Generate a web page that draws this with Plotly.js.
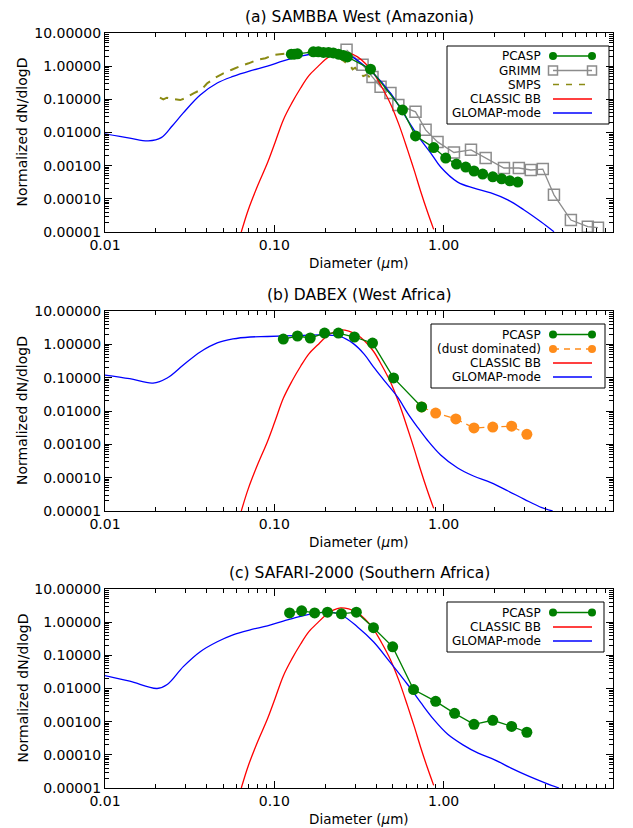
<!DOCTYPE html>
<html>
<head>
<meta charset="utf-8">
<script src="https://cdn.plot.ly/plotly-3.0.1.min.js"></script>
<style>html,body{margin:0;padding:0;background:#fff;}#chart{width:633px;height:828px;}</style>
</head>
<body>
<div id="chart"></div>
<script>
// ---------------- data ----------------
const panelTitles = ["(a) SAMBBA West (Amazonia)", "(b) DABEX (West Africa)", "(c) SAFARI-2000 (Southern Africa)"];
const xTickVals = [0.01, 0.1, 1, 10];
const xTickText = ["0.01", "0.10", "1.00", "10.00"];
const yTickVals = [1e-5, 1e-4, 1e-3, 1e-2, 1e-1, 1, 10];
const yTickText = ["0.00001", "0.00010", "0.00100", "0.01000", "0.10000", "1.00000", "10.00000"];

// CLASSIC BB (same in all panels)
const classicD = [0.0638, 0.0702, 0.080, 0.091, 0.101, 0.113, 0.127, 0.143, 0.160, 0.180, 0.200, 0.223, 0.246, 0.275, 0.31, 0.345, 0.385, 0.43, 0.485, 0.545, 0.612, 0.67, 0.731, 0.80, 0.873];
const classicN = [1.0e-5, 4.7e-5, 2.6e-4, 1.2e-3, 5.0e-3, 0.024, 0.078, 0.22, 0.52, 0.95, 1.6, 2.3, 2.7, 2.5, 1.9, 1.2, 0.62, 0.24, 0.074, 0.017, 0.0030, 7.2e-4, 1.7e-4, 4.2e-5, 1.2e-5];

// (a) SAMBBA West
const aGlomapD = [0.01, 0.014, 0.018, 0.0215, 0.025, 0.029, 0.0365, 0.046, 0.057, 0.072, 0.091, 0.113, 0.143, 0.180, 0.210, 0.246, 0.283, 0.323, 0.385, 0.485, 0.612, 0.711, 0.837, 0.96, 1.21, 1.51, 1.90, 2.39, 2.97, 3.75, 4.48];
const aGlomapN = [0.0091, 0.0068, 0.0056, 0.0070, 0.016, 0.039, 0.135, 0.31, 0.49, 0.72, 1.0, 1.45, 2.0, 2.45, 2.6, 2.5, 2.0, 1.26, 0.60, 0.155, 0.024, 0.0074, 0.00245, 0.00091, 0.00032, 0.00021, 0.000151, 0.000093, 0.000047, 0.0000204, 0.0000102];
const aPcaspD = [0.126, 0.131, 0.137, 0.170, 0.182, 0.195, 0.209, 0.223, 0.239, 0.256, 0.270, 0.37, 0.571, 0.682, 0.873, 1.028, 1.19, 1.35, 1.51, 1.70, 1.95, 2.20, 2.46, 2.74];
const aPcaspN = [2.3, 2.3, 2.35, 2.7, 2.7, 2.6, 2.6, 2.5, 2.3, 2.1, 1.9, 0.81, 0.048, 0.0079, 0.0035, 0.0017, 0.00112, 0.00091, 0.00069, 0.00056, 0.00046, 0.0004, 0.00035, 0.00032];
const aGrimmD = [0.267, 0.332, 0.38, 0.424, 0.485, 0.54, 0.682, 0.782, 0.92, 1.15, 1.45, 1.77, 2.27, 2.78, 3.27, 3.85, 4.48, 5.64, 7.1, 8.15];
const aGrimmN = [3.1, 1.1, 0.47, 0.24, 0.155, 0.068, 0.042, 0.012, 0.0052, 0.0025, 0.0030, 0.0017, 0.00085, 0.00085, 0.00074, 0.00079, 0.000132, 2.3e-5, 1.45e-5, 1.35e-5];
const aSmpsD = [0.0211, 0.0221, 0.0232, 0.0266, 0.0278, 0.0297, 0.0333, 0.0373, 0.040, 0.0448, 0.050, 0.056, 0.063, 0.0705, 0.079, 0.0886, 0.099, 0.119, 0.156, 0.19, 0.223, 0.25, 0.282, 0.29, 0.30, 0.323, 0.335, 0.35, 0.38, 0.424];
const aSmpsN = [0.112, 0.10, 0.112, 0.102, 0.095, 0.107, 0.152, 0.20, 0.30, 0.45, 0.61, 0.78, 1.01, 1.22, 1.55, 1.74, 2.18, 2.44, 2.57, 2.5, 2.18, 1.6, 1.0, 0.8, 0.9, 0.61, 0.5, 0.55, 0.4, 0.27];

// (b) DABEX
const bGlomapD = [0.01, 0.014, 0.0192, 0.0233, 0.029, 0.0365, 0.046, 0.057, 0.072, 0.091, 0.143, 0.200, 0.246, 0.293, 0.34, 0.385, 0.44, 0.535, 0.612, 0.70, 0.80, 0.96, 1.21, 1.5, 1.9, 2.4, 3.0, 3.8, 4.4];
const bGlomapN = [0.12, 0.093, 0.069, 0.098, 0.24, 0.59, 1.1, 1.45, 1.66, 1.72, 1.85, 1.9, 1.7, 1.05, 0.5, 0.21, 0.089, 0.026, 0.0087, 0.0033, 0.00135, 0.00048, 0.000195, 0.000112, 0.0000708, 0.0000398, 0.0000224, 0.0000126, 0.00001];
const bPcaspD = [0.113, 0.137, 0.163, 0.198, 0.239, 0.297, 0.38, 0.506, 0.741];
const bPcaspN = [1.44, 1.78, 1.55, 2.18, 2.18, 1.66, 1.09, 0.098, 0.0132];
const bDustD = [0.741, 0.897, 1.18, 1.51, 1.95, 2.52, 3.10];
const bDustN = [0.0132, 0.0087, 0.0058, 0.0031, 0.0033, 0.0035, 0.0020];

// (c) SAFARI-2000
const cGlomapD = [0.01, 0.014, 0.0203, 0.0233, 0.029, 0.0365, 0.046, 0.057, 0.072, 0.091, 0.113, 0.143, 0.180, 0.210, 0.246, 0.31, 0.385, 0.485, 0.612, 0.731, 0.873, 1.057, 1.3, 1.6, 2.0, 2.5, 3.2, 4.0, 4.8];
const cGlomapN = [0.0245, 0.0166, 0.010, 0.0132, 0.0457, 0.129, 0.257, 0.417, 0.589, 0.776, 1.07, 1.5, 1.9, 2.0, 1.7, 0.72, 0.257, 0.060, 0.0132, 0.0038, 0.00117, 0.000417, 0.0002, 0.000112, 0.0000708, 0.0000398, 0.0000224, 0.0000141, 0.00001];
const cPcaspD = [0.123, 0.145, 0.173, 0.206, 0.249, 0.305, 0.385, 0.50, 0.664, 0.897, 1.16, 1.51, 1.95, 2.52, 3.10];
const cPcaspN = [1.9, 2.2, 1.9, 2.0, 1.78, 2.0, 0.68, 0.18, 0.0093, 0.0041, 0.00178, 0.00083, 0.0011, 0.00072, 0.00048];

// ---------------- styles ----------------
const W = 633, H = 828;
const FONT = "DejaVu Sans";
const GREEN = "#007f00", GRAY = "#8c8c8c", OLIVE = "#8b8b14", RED = "#ff0000", BLUE = "#0000ff", ORANGE = "#ff8c1a";
const px = x => x / W;
const py = y => 1 - y / H;
const plotL = 105, plotR = 613;
const panels = [{top: 33, bot: 232}, {top: 311, bot: 511}, {top: 589, bot: 788}];

function minorLogVals(lo, hi) {
  const v = [];
  for (let e = lo; e < hi; e++) for (let k = 2; k <= 9; k++) v.push(k * Math.pow(10, e));
  return v;
}

const traces = [];
function addLine(i, x, y, color, opts) {
  const ax = i === 0 ? "" : String(i + 1);
  traces.push(Object.assign({
    type: "scatter", x: x, y: y, xaxis: "x" + ax, yaxis: "y" + ax,
    mode: "lines", line: {color: color, width: 1.3, shape: "spline", smoothing: 1},
    showlegend: false, hoverinfo: "skip"
  }, opts || {}));
}

// panel a
addLine(0, aSmpsD, aSmpsN, OLIVE, {line: {color: OLIVE, width: 2, dash: "9px,7px"}});
addLine(0, aGrimmD, aGrimmN, GRAY, {mode: "lines+markers", line: {color: GRAY, width: 1.3},
  marker: {symbol: "square-open", size: 11, color: GRAY, line: {width: 1.5, color: GRAY}}});
addLine(0, classicD, classicN, RED);
addLine(0, aGlomapD, aGlomapN, BLUE);
addLine(0, aPcaspD, aPcaspN, GREEN, {mode: "lines+markers", line: {color: GREEN, width: 1.3},
  marker: {symbol: "circle", size: 11, color: GREEN}});
// panel b
addLine(1, classicD, classicN, RED);
addLine(1, bGlomapD, bGlomapN, BLUE);
addLine(1, bDustD, bDustN, ORANGE, {mode: "lines+markers", line: {color: ORANGE, width: 1.3, dash: "7px,5px"},
  marker: {symbol: "circle", size: 11, color: ORANGE}});
addLine(1, bPcaspD, bPcaspN, GREEN, {mode: "lines+markers", line: {color: GREEN, width: 1.3},
  marker: {symbol: "circle", size: 11, color: GREEN}});
// panel c
addLine(2, classicD, classicN, RED);
addLine(2, cGlomapD, cGlomapN, BLUE);
addLine(2, cPcaspD, cPcaspN, GREEN, {mode: "lines+markers", line: {color: GREEN, width: 1.3},
  marker: {symbol: "circle", size: 11, color: GREEN}});

const layout = {
  width: W, height: H, margin: {l: 0, r: 0, t: 0, b: 0},
  paper_bgcolor: "#fff", plot_bgcolor: "#fff",
  font: {family: FONT, color: "#000", size: 13},
  showlegend: false, annotations: [], shapes: []
};

panels.forEach((p, i) => {
  const ax = i === 0 ? "" : String(i + 1);
  const common = {type: "log", showgrid: false, zeroline: false, automargin: false,
    showline: true, linecolor: "#000", linewidth: 1.2, mirror: "ticks",
    ticks: "inside", ticklen: 7, tickwidth: 1.2, tickcolor: "#000",
    tickfont: {family: FONT, size: 14, color: "#000"}};
  layout["xaxis" + ax] = Object.assign({}, common, {
    range: [-2, 1], domain: [px(plotL), px(plotR)], anchor: "y" + ax,
    tickmode: "array", tickvals: xTickVals, ticktext: xTickText,
    minor: {tickmode: "array", tickvals: minorLogVals(-2, 1), ticks: "inside", ticklen: 4, tickwidth: 1, tickcolor: "#000", showgrid: false}
  });
  layout["yaxis" + ax] = Object.assign({}, common, {
    range: [-5, 1], domain: [py(p.bot), py(p.top)], anchor: "x" + ax,
    tickmode: "array", tickvals: yTickVals, ticktext: yTickText,
    minor: {tickmode: "array", tickvals: minorLogVals(-5, 1), ticks: "inside", ticklen: 4, tickwidth: 1, tickcolor: "#000", showgrid: false}
  });

  const cx = (plotL + plotR) / 2;
  layout.annotations.push({text: panelTitles[i], xref: "paper", yref: "paper", x: px(cx), y: py(p.top - 16),
    xanchor: "center", yanchor: "middle", showarrow: false, font: {family: FONT, size: 15.5, color: "#000"}});
  layout.annotations.push({text: "Diameter (<i>\u03bc</i>m)", xref: "paper", yref: "paper", x: px(cx), y: py(p.bot + 31),
    xanchor: "center", yanchor: "middle", showarrow: false, font: {family: FONT, size: 13.5, color: "#000"}});
  layout.annotations.push({text: "Normalized dN/dlogD", xref: "paper", yref: "paper", x: px(22), y: py((p.top + p.bot) / 2),
    xanchor: "center", yanchor: "middle", textangle: -90, showarrow: false, font: {family: FONT, size: 14, color: "#000"}});
});

// ---------------- custom legends (text left, sample right) ----------------
function legBox(x0, y0, x1, y1) {
  layout.shapes.push({type: "rect", xref: "paper", yref: "paper", x0: px(x0), x1: px(x1), y0: py(y1), y1: py(y0),
    line: {color: "#000", width: 1}, fillcolor: "rgba(255,255,255,0)"});
}
function legText(y, text) {
  layout.annotations.push({text: text, xref: "paper", yref: "paper", x: px(543), y: py(y), xanchor: "right", yanchor: "middle",
    showarrow: false, font: {family: FONT, size: 12, color: "#000"}});
}
function legLine(y, color, dash, width) {
  layout.shapes.push({type: "line", xref: "paper", yref: "paper", x0: px(553), x1: px(592), y0: py(y), y1: py(y),
    line: {color: color, width: width || 1.3, dash: dash || "solid"}});
}
function legMark(x, y, color, kind) {
  const r = kind === "square" ? 4.5 : 4;
  layout.shapes.push({type: kind === "square" ? "rect" : "circle", xref: "paper", yref: "paper",
    x0: px(x - r), x1: px(x + r), y0: py(y + r), y1: py(y - r),
    fillcolor: kind === "square" ? "rgba(0,0,0,0)" : color, line: {color: color, width: kind === "square" ? 1.5 : 0}});
}

// legend a
legBox(447, 46, 609, 124);
[["PCASP", 56], ["GRIMM", 70.5], ["SMPS", 84.5], ["CLASSIC BB", 99], ["GLOMAP-mode", 113]].forEach(e => legText(e[1], e[0]));
legLine(56, GREEN); legMark(553, 56, GREEN); legMark(592, 56, GREEN);
legLine(70.5, GRAY); legMark(553, 70.5, GRAY, "square"); legMark(592, 70.5, GRAY, "square");
legLine(84.5, OLIVE, "6px,7px", 1.5);
legLine(99, RED); legLine(113, BLUE);
// legend b
legBox(431, 324, 605, 388);
[["PCASP", 334.5], ["(dust dominated)", 349], ["CLASSIC BB", 363], ["GLOMAP-mode", 377]].forEach(e => legText(e[1], e[0]));
legLine(334.5, GREEN); legMark(553, 334.5, GREEN); legMark(592, 334.5, GREEN);
legLine(349, ORANGE, "6px,5px"); legMark(553, 349, ORANGE); legMark(592, 349, ORANGE);
legLine(363, RED); legLine(377, BLUE);
// legend c
legBox(447, 602, 604, 652);
[["PCASP", 612.5], ["CLASSIC BB", 627], ["GLOMAP-mode", 641]].forEach(e => legText(e[1], e[0]));
legLine(612.5, GREEN); legMark(553, 612.5, GREEN); legMark(592, 612.5, GREEN);
legLine(627, RED); legLine(641, BLUE);

Plotly.newPlot("chart", traces, layout, {displayModeBar: false});
</script>
</body>
</html>
